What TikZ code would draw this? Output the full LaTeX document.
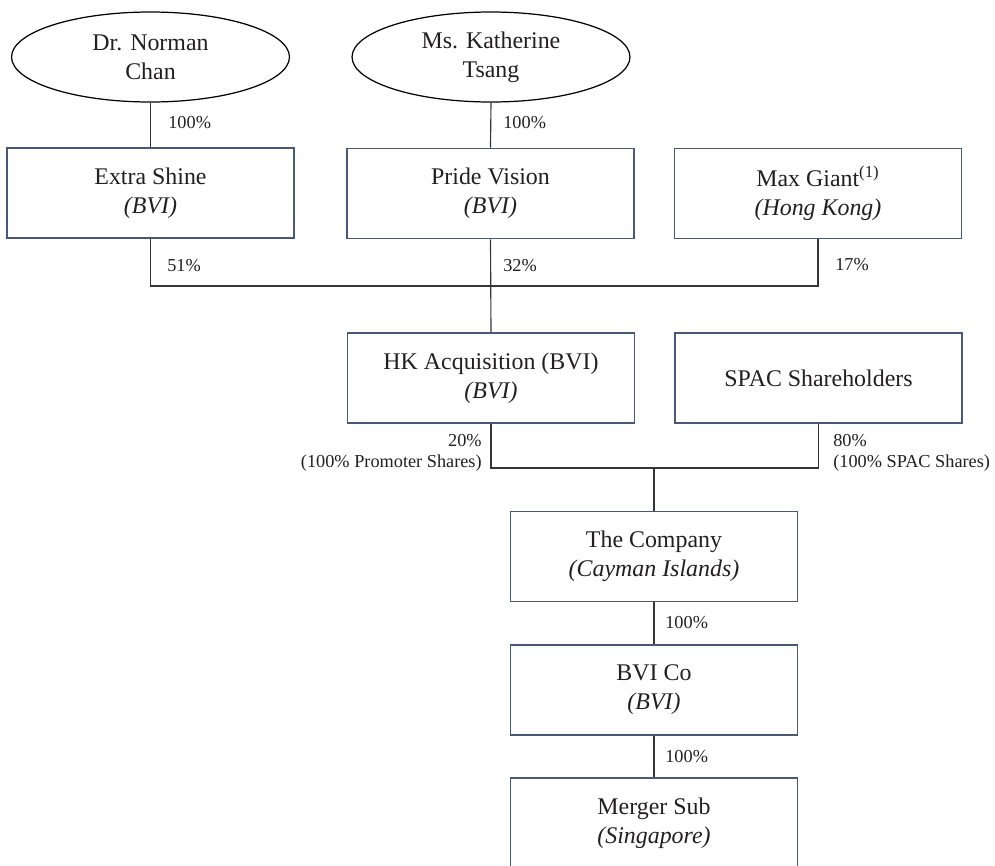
\documentclass[tikz,border=0pt]{standalone}
\usepackage{fontspec}
\setmainfont{Liberation Serif}
\usepackage{tikz}
\usetikzlibrary{shapes.geometric}
\tikzstyle{chart} = [x = 0.02cm, y = -0.02cm]
\definecolor{boxColor}{RGB}{72,88,118}
\definecolor{lineColor}{RGB}{55,52,52}
\definecolor{inkColor}{RGB}{35,31,32}
\tikzstyle{companyStyle} = [draw=boxColor, line width=0.9pt, minimum width=5.74cm, minimum height=1.8cm, inner sep=0pt, align=center, text=inkColor, font=\fontsize{13.6}{16.4}\selectfont]
\tikzstyle{personStyle} = [ellipse, draw=black, line width=0.7pt, minimum width=5.56cm, minimum height=1.8cm, inner sep=0pt, align=center, text=inkColor, font=\fontsize{13.6}{16.4}\selectfont]
\tikzstyle{ownLine} = [color=lineColor, line width=0.65pt]
\tikzstyle{shareText} = [inner sep=0pt, text=inkColor, font=\fontsize{10.4}{12}\selectfont]
\newcommand{\companyBox}[4]{\node [companyStyle] (#1) at (#2,#3) {#4};}
\newcommand{\personOval}[4]{\node [personStyle] (#1) at (#2,#3) {#4};}
\newcommand{\shareLeft}[4]{\node [shareText, anchor=west, align=left] (#1) at (#2,#3) {#4};}
\newcommand{\shareRight}[4]{\node [shareText, anchor=east, align=right] (#1) at (#2,#3) {#4};}
\begin{document}
\begin{tikzpicture}[chart]
        \useasboundingbox (0,0) rectangle (995,866);

        \personOval{chan}{150.5}{57}{Dr. Norman\\Chan}
        \personOval{tsang}{491}{57}{Ms. Katherine\\Tsang}

        \companyBox{extra}{150.5}{193}{Extra Shine\\\textit{(BVI)}}
        \companyBox{pride}{490.5}{193.5}{Pride Vision\\\textit{(BVI)}}
        \companyBox{max}{818}{193.5}{Max Giant\textsuperscript{(1)}\\\textit{(Hong Kong)}}
        \companyBox{hk}{491}{378}{HK Acquisition (BVI)\\\textit{(BVI)}}
        \companyBox{spac}{818.5}{378}{SPAC Shareholders}
        \companyBox{company}{654}{556.5}{The Company\\\textit{(Cayman Islands)}}
        \companyBox{bvico}{654}{690}{BVI Co\\\textit{(BVI)}}
        \companyBox{merger}{654}{823}{Merger Sub\\\textit{(Singapore)}}

        \coordinate (topBus) at (490.5,286);
        \coordinate (lowBus) at (654,468);

        \draw [ownLine] (chan.south) -- (extra.north);
        \draw [ownLine] (tsang.south) -- (pride.north);
        \draw [ownLine] (extra.south) |- (topBus) -| (max.south);
        \draw [ownLine] (pride.south) -- (hk.north);
        \draw [ownLine] (hk.south) |- (lowBus) -| (spac.south);
        \draw [ownLine] (lowBus) -- (company.north);
        \draw [ownLine] (company.south) -- (bvico.north);
        \draw [ownLine] (bvico.south) -- (merger.north);

        \shareLeft{chanPct}{168}{123}{100\%}
        \shareLeft{tsangPct}{503}{123}{100\%}
        \shareLeft{extraPct}{167}{266}{51\%}
        \shareLeft{pridePct}{503}{266}{32\%}
        \shareLeft{maxPct}{835}{265}{17\%}
        \shareRight{hkPct}{482}{453}{20\%\\(100\% Promoter Shares)}
        \shareLeft{spacPct}{833}{453}{80\%\\(100\% SPAC Shares)}
        \shareLeft{companyPct}{665}{623}{100\%}
        \shareLeft{bvicoPct}{665}{757}{100\%}
      \end{tikzpicture}
\end{document}
